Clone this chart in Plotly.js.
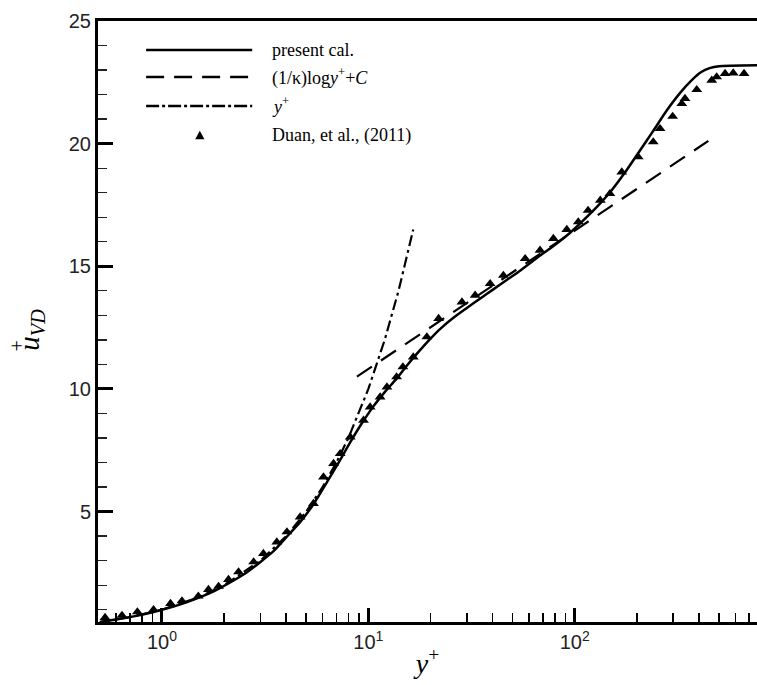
<!DOCTYPE html>
<html>
<head>
<meta charset="utf-8">
<script src="https://cdn.plot.ly/plotly-3.0.1.min.js"></script>
<style>html,body{margin:0;padding:0;background:#fff;}#chart{width:757px;height:685px;}</style>
</head>
<body>
<div id="chart"></div>
<script>
// present calculation (solid line)
const calY = [0.5, 0.6, 0.73, 0.9, 1.0, 1.25, 1.5, 1.8, 2.2, 2.6, 3.0, 3.5, 4.0, 4.7, 5.4, 6.3, 7.2, 8.2, 9.3, 10.6, 12.0, 13.7, 15.6, 17.8, 20, 22.3, 26, 30, 35, 40.3, 47, 54.3, 65, 80, 95, 110, 128, 150, 175, 207, 240, 280, 324, 370, 410, 450, 500, 764];
const calU = [0.5, 0.6, 0.73, 0.9, 1.0, 1.24, 1.48, 1.77, 2.17, 2.55, 2.95, 3.42, 3.95, 4.6, 5.28, 6.2, 7.02, 7.85, 8.6, 9.3, 9.87, 10.42, 11.02, 11.58, 12.05, 12.45, 12.92, 13.3, 13.7, 14.06, 14.45, 14.82, 15.32, 15.87, 16.37, 16.87, 17.42, 18.07, 18.82, 19.72, 20.52, 21.37, 22.07, 22.6, 22.92, 23.08, 23.16, 23.2];
// log law (dashed)
const logY = [8.8, 444];
const logU = [10.5, 20.11];
// viscous sublayer u+ = y+ (dash-dot)
const linY = [0.5, 0.7, 1, 1.5, 2, 3, 4, 5, 6, 7, 8, 10, 12, 14, 16.5];
const linU = [0.5, 0.7, 1, 1.5, 2, 3, 4, 5, 6, 7, 8, 10, 12, 14, 16.5];
// Duan et al. (2011) DNS (triangles)
const duanY = [0.53, 0.64, 0.76, 0.91, 1.1, 1.25, 1.5, 1.68, 1.88, 2.1, 2.35, 2.78, 3.1, 3.6, 4.03, 4.67, 5.42, 6.06, 6.78, 7.3, 8.17, 9.47, 10.2, 11.4, 12.3, 13.7, 14.7, 16.5, 19.2, 21.9, 28.4, 32.9, 38.9, 45.1, 57.5, 67.9, 78.8, 91.5, 104, 116, 133, 148, 169, 203, 240, 259, 298, 330, 342, 390, 461, 487, 535, 586, 661];
const duanU = [0.68, 0.77, 0.91, 1.0, 1.25, 1.36, 1.55, 1.82, 1.95, 2.23, 2.54, 2.95, 3.29, 3.76, 4.17, 4.78, 5.33, 6.41, 6.96, 7.36, 8.04, 8.72, 9.26, 9.67, 10.08, 10.49, 10.9, 11.3, 12.12, 12.87, 13.54, 13.82, 14.29, 14.63, 15.31, 15.65, 16.13, 16.5, 16.81, 17.28, 17.69, 17.96, 18.84, 19.46, 20.07, 20.61, 21.11, 21.63, 21.84, 22.2, 22.58, 22.72, 22.86, 22.88, 22.86];

const legendLabels = ['present cal.', '(1/\u03ba)log<i>y</i><sup>+</sup>+<i>C</i>', '<i>y</i><sup>+</sup>', 'Duan, et al., (2011)'];
const xTickVals = [1, 10, 100];
const xTickText = ['10<sup>0</sup>', '10<sup>1</sup>', '10<sup>2</sup>'];
const xMinorVals = [0.6, 0.7, 0.8, 0.9, 2, 3, 4, 5, 6, 7, 8, 9, 20, 30, 40, 50, 60, 70, 80, 90, 200, 300, 400, 500, 600, 700];
const yTickVals = [5, 10, 15, 20, 25];
const yMinorVals = [1, 2, 3, 4, 6, 7, 8, 9, 11, 12, 13, 14, 16, 17, 18, 19, 21, 22, 23, 24];
const yTitleText = '<i>u</i><sub><i>VD</i></sub>';
const xTitleText = '<i>y</i><sup>+</sup>';

const traces = [
  {x: linY, y: linU, mode: 'lines', line: {color: '#000', width: 2.2, dash: '11px,4px,3px,4px'}, showlegend: false},
  {x: logY, y: logU, mode: 'lines', line: {color: '#000', width: 2.2, dash: '18px,11px'}, showlegend: false},
  {x: calY, y: calU, mode: 'lines', line: {color: '#000', width: 2.5, shape: 'spline', smoothing: 0.5}, showlegend: false},
  {x: duanY, y: duanU, mode: 'markers', marker: {symbol: 'triangle-up', size: 9.5, color: '#000'}, showlegend: false}
];

// legend drawn in paper coordinates
const L = {x0: 0.073, x1: 0.234, xt: 0.261, xm: 0.1545, ys: [0.9517, 0.9068, 0.8586, 0.8103]};
const dashes = ['solid', '18px,10px', '13px,3px,3px,3px'];
const shapes = [];
for (let i = 0; i < 3; i++) {
  shapes.push({type: 'line', xref: 'paper', yref: 'paper', x0: L.x0, x1: L.x1, y0: L.ys[i], y1: L.ys[i],
    line: {color: '#000', width: 2.5, dash: dashes[i]}});
}
const tw = 0.0070, th = 0.0140;
shapes.push({type: 'path', xref: 'paper', yref: 'paper',
  path: `M ${L.xm - tw},${L.ys[3] - th / 2} L ${L.xm + tw},${L.ys[3] - th / 2} L ${L.xm},${L.ys[3] + th / 2} Z`,
  fillcolor: '#000', line: {color: '#000', width: 0}});

const serif = 'Liberation Serif, Times New Roman, serif';
const annotations = legendLabels.map((t, i) => ({
  xref: 'paper', yref: 'paper', x: L.xt, y: L.ys[i], xanchor: 'left', yanchor: 'middle',
  text: t, showarrow: false, font: {family: serif, size: 18, color: '#000'}
}));
// y-axis title (rotated) with stacked superscript
annotations.push({xref: 'paper', yref: 'paper', x: -0.101, y: 0.487, xanchor: 'center', yanchor: 'middle',
  text: yTitleText, textangle: -90, showarrow: false, font: {family: serif, size: 29, color: '#000'}});
annotations.push({xref: 'paper', yref: 'paper', x: -0.123, y: 0.46, xanchor: 'center', yanchor: 'middle',
  text: '+', textangle: -90, showarrow: false, font: {family: serif, size: 20, color: '#000'}});

const tickFont = {family: 'Liberation Sans, Arial, sans-serif', size: 20, color: '#222'};
const xRange = [-0.31, 2.883];
const layout = {
  width: 757, height: 685,
  margin: {l: 98, r: 0, t: 21, b: 63, pad: 0},
  paper_bgcolor: '#fff', plot_bgcolor: '#fff',
  showlegend: false,
  xaxis: {
    type: 'log', range: xRange, tickmode: 'array', tickvals: xTickVals, ticktext: xTickText,
    ticks: 'inside', ticklen: 14, tickwidth: 3, tickcolor: '#000',
    minor: {tickmode: 'array', tickvals: xMinorVals, ticks: 'inside', ticklen: 9, tickwidth: 1.5, tickcolor: '#000', showgrid: false},
    showline: true, linewidth: 3, linecolor: '#000', mirror: true,
    showgrid: false, zeroline: false, tickfont: tickFont,
    title: {text: xTitleText, font: {family: serif, size: 28, color: '#000'}, standoff: 2}
  },
  yaxis: {
    range: [0.5, 25], tickmode: 'array', tickvals: yTickVals,
    ticks: 'inside', ticklen: 15, tickwidth: 3, tickcolor: '#000',
    minor: {tickmode: 'array', tickvals: yMinorVals, ticks: 'inside', ticklen: 9, tickwidth: 1.3, tickcolor: '#222', showgrid: false},
    showline: true, linewidth: 3, linecolor: '#000', mirror: false,
    showgrid: false, zeroline: false, tickfont: tickFont
  },
  shapes: shapes,
  annotations: annotations
};

Plotly.newPlot('chart', traces, layout, {staticPlot: true, displayModeBar: false});
</script>
</body>
</html>
